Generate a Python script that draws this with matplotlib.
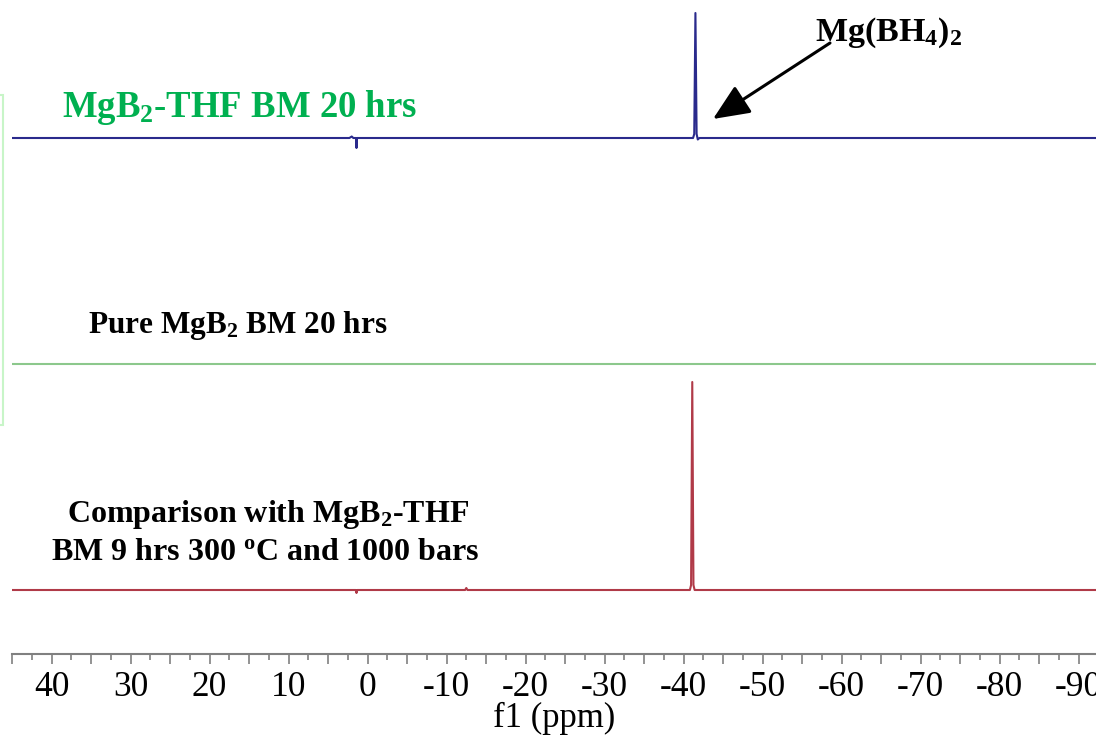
import matplotlib
matplotlib.use("Agg")
import matplotlib.pyplot as plt
from matplotlib.patches import FancyArrowPatch, Rectangle

# ---------------- data ----------------
# top spectrum: MgB2-THF BM 20 hrs (blue)
top_ppm = [45.0, 2.3, 2.0, 1.8, 1.45, 1.4, 1.35, 1.2, -41.2, -41.35, -41.5, -41.65, -41.8, -42.0, -92.2]
top_int = [0.0, 0.0, 1.5, 0.0, 0.0, -10.0, 0.0, 0.0, 0.0, 4.0, 125.0, 4.0, -1.5, 0.0, 0.0]
# middle spectrum: Pure MgB2 BM 20 hrs (green)
mid_ppm = [45.0, -92.2]
mid_int = [0.0, 0.0]
# bottom spectrum: MgB2-THF BM 9 hrs 300 oC 1000 bars (red)
bot_ppm = [45.0, 1.5, 1.4, 1.3, -12.35, -12.5, -12.65, -40.8, -40.95, -41.1, -41.25, -41.4, -92.2]
bot_int = [0.0, 0.0, -3.0, 0.0, 0.0, 2.0, 0.0, 0.0, 5.0, 208.0, 5.0, 0.0, 0.0]

tick_long = [45, 40, 35, 30, 25, 20, 15, 10, 5, 0, -5, -10, -15, -20, -25, -30, -35,
             -40, -45, -50, -55, -60, -65, -70, -75, -80, -85, -90]
tick_short = [42.5, 37.5, 32.5, 27.5, 22.5, 17.5, 12.5, 7.5, 2.5, -2.5, -7.5, -12.5,
              -17.5, -22.5, -27.5, -32.5, -37.5, -42.5, -47.5, -52.5, -57.5, -62.5,
              -67.5, -72.5, -77.5, -82.5, -87.5]
tick_labels = [40, 30, 20, 10, 0, -10, -20, -30, -40, -50, -60, -70, -80, -90]

labels = {
    "top": r"MgB$_{2}$-THF BM 20 hrs",
    "mid": r"Pure MgB$_{2}$ BM 20 hrs",
    "bot1": r"Comparison with MgB$_{2}$-THF",
    "bot2": r"BM 9 hrs 300 $^{o}$C and 1000 bars",
    "peak": r"Mg(BH$_{4}$)$_{2}$",
    "xlabel": "f1 (ppm)",
}

# ---------------- style ----------------
plt.rcParams["font.family"] = ["Liberation Serif", "DejaVu Serif"]
plt.rcParams["mathtext.fontset"] = "custom"
plt.rcParams["mathtext.rm"] = "Liberation Serif:bold"
plt.rcParams["mathtext.it"] = "Liberation Serif:bold"
plt.rcParams["mathtext.bf"] = "Liberation Serif:bold"
plt.rcParams["mathtext.default"] = "regular"
plt.rcParams["axes.unicode_minus"] = False

W, H = 1096, 745
fig = plt.figure(figsize=(W / 100, H / 100), dpi=100)


def fx(x):
    return x / W


def fy(y):
    return 1 - y / H


axis_y = 654
ax = fig.add_axes([fx(12), fy(axis_y), 1 - fx(12), axis_y / H])
ax.set_xlim(45, -92.2)
ax.set_ylim(0, axis_y)

off_top, off_mid, off_bot = axis_y - 138, axis_y - 364, axis_y - 590
ax.plot(top_ppm, [v + off_top for v in top_int], color="#2a2a8c", lw=1.5)
ax.plot(mid_ppm, [v + off_mid for v in mid_int], color="#8cc88c", lw=1.5)
ax.plot(bot_ppm, [v + off_bot for v in bot_int], color="#b03a48", lw=1.5)

for s in ("top", "left", "right"):
    ax.spines[s].set_visible(False)
ax.spines["bottom"].set_color("#808080")
ax.spines["bottom"].set_linewidth(1.5)
ax.set_yticks([])
ax.set_xticks(tick_long)
ax.set_xticklabels([str(t) if t in tick_labels else "" for t in tick_long])
ax.set_xticks(tick_short, minor=True)
ax.tick_params(axis="x", which="major", length=7, width=1.2, color="#808080",
               labelsize=25.5, pad=5)
ax.tick_params(axis="x", which="minor", length=4, width=1.2, color="#808080")
ax.set_xlabel(labels["xlabel"], fontsize=25, labelpad=-1)

# ---------------- annotations ----------------
fig.text(fx(62), fy(117), labels["top"], color="#00B050", fontsize=26.5,
         fontweight="bold", va="baseline", ha="left")
fig.text(fx(815), fy(41), labels["peak"], color="black", fontsize=24.5,
         fontweight="bold", va="baseline", ha="left")
fig.text(fx(88), fy(333), labels["mid"], color="black", fontsize=22.5,
         fontweight="bold", va="baseline", ha="left")
fig.text(fx(268), fy(522), labels["bot1"], color="black", fontsize=23,
         fontweight="bold", va="baseline", ha="center")
fig.text(fx(265), fy(560), labels["bot2"], color="black", fontsize=23,
         fontweight="bold", va="baseline", ha="center")

arrow = FancyArrowPatch((fx(830), fy(43)), (fx(713), fy(119)),
                        transform=fig.transFigure,
                        arrowstyle="-|>,head_length=0.8,head_width=0.35",
                        mutation_scale=28, lw=2.2, color="black",
                        shrinkA=0, shrinkB=0)
fig.add_artist(arrow)

rect = Rectangle((fx(-100), fy(425)), fx(103), (425 - 95) / H,
                 transform=fig.transFigure, fill=False,
                 edgecolor="#c8f5c8", lw=1.5)
fig.add_artist(rect)

fig.savefig("out.png", dpi=100)
